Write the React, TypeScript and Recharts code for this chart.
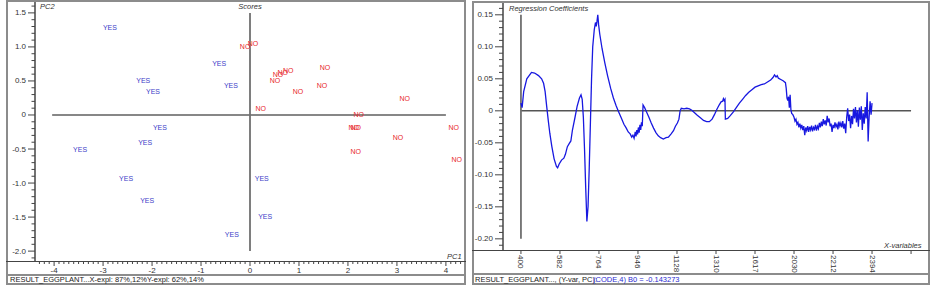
import React from "react"
import {
  ScatterChart,
  Scatter,
  LineChart,
  Line,
  XAxis,
  YAxis,
  ReferenceLine,
} from "recharts"

// scores plot (PC1 / PC2)
const yesPC1 = [-2.86, -0.63, -2.18, -1.98, -0.39, -1.84, -2.14, -3.47, -2.53, -2.1, -0.37, 0.24, 0.31]
const yesPC2 = [1.28, 0.76, 0.5, 0.34, 0.43, -0.18, -0.41, -0.51, -0.94, -1.26, -1.75, -0.94, -1.49]
const noPC1 = [-0.1, 0.06, 0.78, 0.67, 0.57, 0.51, 1.53, 1.47, 0.98, 0.22, 3.16, 2.22, 2.12, 2.16, 4.16, 3.02, 2.16, 4.22]
const noPC2 = [1.01, 1.05, 0.65, 0.62, 0.59, 0.5, 0.7, 0.44, 0.35, 0.09, 0.24, 0.01, -0.18, -0.18, -0.18, -0.33, -0.53, -0.66]

const scoreXTicks = [-4, -3, -2, -1, 0, 1, 2, 3, 4]
const scoreYTicks = [-2, -1.5, -1, -0.5, 0, 0.5, 1, 1.5]
const scoreYLabels = ["-2.0", "-1.5", "-1.0", "-0.5", "0", "0.5", "1.0", "1.5"]

// regression coefficients, x in tick units (0 = "400")
const coefPos = [
  0, 0.03, 0.07, 0.15, 0.27, 0.35, 0.45, 0.53, 0.58, 0.62, 0.66, 0.7, 0.74, 0.79, 0.85, 0.91, 0.94, 0.98,
  1.04, 1.1, 1.14, 1.19, 1.24, 1.28, 1.32, 1.38, 1.44, 1.5, 1.54, 1.57, 1.6, 1.63, 1.66, 1.69, 1.72, 1.75,
  1.78, 1.81, 1.84, 1.88, 1.91, 1.93, 1.95, 1.97, 1.99, 2.02, 2.08, 2.15, 2.22, 2.3, 2.37, 2.44, 2.5, 2.57,
  2.64, 2.7, 2.75, 2.8, 2.84, 2.87, 2.9, 2.93, 2.95, 2.97, 2.99, 3.01, 3.03, 3.05, 3.07, 3.09, 3.11, 3.13,
  3.17, 3.22, 3.28, 3.34, 3.4, 3.46, 3.52, 3.58, 3.65, 3.72, 3.78, 3.85, 3.91, 3.96, 4.01, 4.05, 4.08, 4.11,
  4.18, 4.25, 4.32, 4.38, 4.45, 4.52, 4.6, 4.68, 4.76, 4.83, 4.9, 4.96, 5.02, 5.08, 5.13, 5.17, 5.19, 5.21,
  5.23, 5.24, 5.3, 5.36, 5.44, 5.52, 5.6, 5.68, 5.76, 5.84, 5.92, 6.0, 6.08, 6.16, 6.24, 6.32, 6.4, 6.46,
  6.5, 6.54, 6.57, 6.6, 6.66, 6.72, 6.78, 6.8, 6.82, 6.84, 6.86, 6.88, 6.9, 6.92, 6.94, 6.97,
  7.0, 7.025, 7.05, 7.075, 7.1, 7.125, 7.15, 7.175, 7.2, 7.225, 7.25, 7.275, 7.3, 7.325, 7.35, 7.375,
  7.4, 7.425, 7.45, 7.475, 7.5, 7.525, 7.55, 7.575, 7.6, 7.625, 7.65, 7.675, 7.7, 7.725, 7.75, 7.775,
  7.8, 7.825, 7.85, 7.875, 7.9, 7.925, 7.95, 7.975, 8.0, 8.025, 8.05, 8.075, 8.1, 8.125, 8.15, 8.175,
  8.2, 8.225, 8.25, 8.275, 8.3, 8.325, 8.35, 8.375, 8.4, 8.425, 8.45, 8.475, 8.5, 8.525, 8.55, 8.575,
  8.6, 8.625, 8.65, 8.675, 8.7, 8.725, 8.75, 8.775, 8.8, 8.825, 8.85, 8.875, 8.9, 8.925, 8.95, 8.975, 9.0,
]
const coefVal = [
  0.012, 0.005, 0.03, 0.05, 0.06, 0.059, 0.055, 0.05, 0.043, 0.03, 0.007, -0.015, -0.035, -0.055, -0.075, -0.087, -0.089, -0.083,
  -0.077, -0.074, -0.068, -0.056, -0.051, -0.047, -0.03, -0.012, 0.007, 0.02, 0.025, 0.018, -0.01, -0.06, -0.12, -0.173, -0.15, -0.09,
  -0.02, 0.05, 0.1, 0.127, 0.138, 0.132, 0.14, 0.15, 0.135, 0.12, 0.097, 0.075, 0.055, 0.035, 0.02, 0.008, -0.001, -0.011,
  -0.021, -0.027, -0.033, -0.036, -0.041, -0.038, -0.043, -0.033, -0.04, -0.03, -0.037, -0.026, -0.034, -0.022, -0.03, -0.018, -0.024, 0.009,
  0.005, -0.002, -0.01, -0.019, -0.027, -0.034, -0.039, -0.042, -0.044, -0.042, -0.041, -0.036, -0.031, -0.024, -0.019, -0.013, 0.0, 0.004,
  0.003, 0.004, 0.003, 0.001, -0.003, -0.007, -0.011, -0.015, -0.017, -0.017, -0.013, -0.006, 0.002, 0.009, 0.014, 0.015, 0.019, 0.016,
  0.018, -0.013, -0.012, -0.008, -0.002, 0.005, 0.012, 0.018, 0.024, 0.029, 0.033, 0.037, 0.039, 0.041, 0.042, 0.045, 0.048, 0.052,
  0.056, 0.053, 0.055, 0.051, 0.049, 0.047, 0.044, 0.035, 0.02, 0.016, 0.022, 0.005, 0.025, 0.002, -0.004, -0.006,
  -0.01, -0.016, -0.013, -0.021, -0.018, -0.026, -0.02, -0.027, -0.022, -0.03, -0.024, -0.038, -0.026, -0.031, -0.024, -0.033,
  -0.025, -0.03, -0.023, -0.032, -0.026, -0.029, -0.022, -0.031, -0.024, -0.028, -0.019, -0.026, -0.017, -0.024, -0.013, -0.021,
  -0.015, -0.023, -0.008, -0.018, -0.012, -0.024, -0.02, -0.033, -0.022, -0.027, -0.018, -0.025, -0.021, -0.029, -0.017, -0.024,
  -0.019, -0.026, -0.016, -0.028, -0.02, -0.035, -0.01, 0.004, -0.016, -0.006, -0.027, -0.008, -0.021, 0.003, -0.012, 0.006,
  -0.018, 0.001, -0.025, 0.005, -0.014, 0.007, -0.03, -0.004, -0.02, 0.006, -0.012, 0.029, -0.048, -0.01, 0.015, -0.006, 0.012,
]

const coefXTicks = [0, 1, 2, 3, 4, 5, 6, 7, 8, 9, 10]
const coefXLabels = ["400", "582", "764", "946", "1128", "1310", "1617", "2030", "2212", "2394", ""]
const coefYTicks = [-0.2, -0.15, -0.1, -0.05, 0, 0.05, 0.1, 0.15]
const coefYLabels = ["-0.20", "-0.15", "-0.10", "-0.05", "0", "0.05", "0.10", "0.15"]

const FONT = '"Liberation Sans", Arial, sans-serif'
const FRAME = "#8c8c8c"
const AXIS = "#444"

// minor tick helpers (every tenth of a major step)
const steps = (from: number, to: number, div: number) => {
  const out: number[] = []
  for (let k = Math.round(from * div); k <= Math.round(to * div); k++) out.push(k / div)
  return out
}

const labelFor = (v: number, ticks: number[], labels: string[]) => {
  const i = ticks.findIndex((t) => Math.abs(t - v) < 1e-6)
  return i >= 0 ? labels[i] : null
}

function LeftTick({ x, y, payload, ticks, labels, major, minor }: any) {
  const lab = labelFor(payload.value, ticks, labels)
  return (
    <g>
      <line x1={x - (lab !== null ? major : minor)} x2={x} y1={y} y2={y} stroke={AXIS} strokeWidth={1} />
      {lab !== null && (
        <text x={x - major - 2} y={y} textAnchor="end" dominantBaseline="central" fontSize={8} fill="#333" fontFamily={FONT}>
          {lab}
        </text>
      )}
    </g>
  )
}

function ScoreXTick({ x, y, payload }: any) {
  const isMajor = scoreXTicks.some((t) => Math.abs(t - payload.value) < 1e-6)
  return (
    <g>
      <line x1={x} x2={x} y1={y} y2={y + (isMajor ? 4 : 2)} stroke={AXIS} strokeWidth={1} />
      {isMajor && (
        <text x={x} y={y + 8.5} textAnchor="middle" dominantBaseline="central" fontSize={8} fill="#333" fontFamily={FONT}>
          {payload.value}
        </text>
      )}
    </g>
  )
}

function CoefXTick({ x, y, payload }: any) {
  const lab = labelFor(payload.value, coefXTicks, coefXLabels)
  return (
    <g>
      <line x1={x} x2={x} y1={y} y2={y + 3} stroke={AXIS} strokeWidth={1} />
      <text
        x={x}
        y={y + 4}
        transform={`rotate(90, ${x}, ${y + 4})`}
        textAnchor="start"
        dominantBaseline="central"
        fontSize={8}
        fill="#333"
        fontFamily={FONT}
      >
        {lab}
      </text>
    </g>
  )
}

const wordShape = (word: string, color: string) => (props: any) => (
  <text x={props.cx} y={props.cy} textAnchor="middle" dominantBaseline="central" fontSize={7} fill={color} fontFamily={FONT}>
    {word}
  </text>
)

const smallLabel: React.CSSProperties = {
  position: "absolute",
  fontSize: 7.5,
  fontStyle: "italic",
  color: "#333",
  lineHeight: "8px",
  whiteSpace: "nowrap",
}

const hLine = (left: number, top: number, width: number, color: string, w = 2) => (
  <div style={{ position: "absolute", left, top, width, height: 0, borderTop: `${w}px solid ${color}` }} />
)

export default function App() {
  const yesData = yesPC1.map((x, i) => ({ x, y: yesPC2[i] }))
  const noData = noPC1.map((x, i) => ({ x, y: noPC2[i] }))
  const coefData = coefPos.map((x, i) => ({ x, v: coefVal[i] }))

  return (
    <div style={{ position: "absolute", left: 0, top: 0, width: 940, height: 286, background: "#fff", fontFamily: FONT, overflow: "hidden" }}>
      {/* scores */}
      <div style={{ position: "absolute", left: 0, top: 0 }}>
        <ScatterChart width={470} height={286} margin={{ top: 2, right: 5, bottom: 12, left: 7 }}>
          <XAxis
            type="number"
            dataKey="x"
            domain={[-4.39, 4.39]}
            allowDataOverflow
            ticks={steps(-4.3, 4.3, 10)}
            interval={0}
            height={12}
            axisLine={false}
            tickLine={false}
            tickSize={0}
            tickMargin={0}
            tick={<ScoreXTick />}
          />
          <YAxis
            type="number"
            dataKey="y"
            domain={[-2.16, 1.66]}
            allowDataOverflow
            ticks={steps(-2.1, 1.6, 10)}
            interval={0}
            width={28}
            axisLine={{ stroke: AXIS, strokeWidth: 1.5 }}
            tickLine={false}
            tickSize={0}
            tickMargin={0}
            tick={<LeftTick ticks={scoreYTicks} labels={scoreYLabels} major={7} minor={3.5} />}
          />
          <ReferenceLine segment={[{ x: -4.04, y: 0 }, { x: 4, y: 0 }]} stroke="#111" strokeWidth={1.2} />
          <ReferenceLine segment={[{ x: 0, y: 1.5 }, { x: 0, y: -2 }]} stroke="#707070" strokeWidth={1.8} />
          <Scatter data={yesData} shape={wordShape("YES", "#3c3cc8")} isAnimationActive={false} />
          <Scatter data={noData} shape={wordShape("NO", "#e8282a")} isAnimationActive={false} />
        </ScatterChart>
      </div>

      {/* regression coefficients */}
      <div style={{ position: "absolute", left: 466, top: 0 }}>
        <LineChart width={474} height={286} data={coefData} margin={{ top: 2, right: 11, bottom: 12, left: 7 }}>
          <XAxis
            type="number"
            dataKey="x"
            domain={[-0.46, 10.46]}
            allowDataOverflow
            ticks={coefXTicks}
            interval={0}
            height={23}
            axisLine={false}
            tickLine={false}
            tickSize={0}
            tickMargin={0}
            tick={<CoefXTick />}
          />
          <YAxis
            type="number"
            domain={[-0.219, 0.17]}
            allowDataOverflow
            ticks={steps(-0.21, 0.16, 100)}
            interval={0}
            width={30}
            axisLine={{ stroke: AXIS, strokeWidth: 1.5 }}
            tickLine={false}
            tickSize={0}
            tickMargin={0}
            tick={<LeftTick ticks={coefYTicks} labels={coefYLabels} major={8} minor={4} />}
          />
          <ReferenceLine segment={[{ x: 0, v: 0, y: 0 } as any, { x: 10, y: 0 } as any]} stroke="#555" strokeWidth={1.5} />
          <ReferenceLine segment={[{ x: 0, y: 0.15 }, { x: 0, y: -0.2 }]} stroke="#707070" strokeWidth={1.8} />
          <Line type="linear" dataKey="v" stroke="#1818e0" strokeWidth={1.3} dot={false} isAnimationActive={false} />
        </LineChart>
      </div>

      {/* frames */}
      <div style={{ position: "absolute", left: 6, top: 0, width: 460, height: 285, border: `2px solid ${FRAME}`, boxSizing: "border-box" }} />
      {hLine(6, 261, 460, AXIS, 1.5)}
      {hLine(6, 273.5, 460, FRAME)}
      <div style={{ position: "absolute", left: 472, top: 1, width: 458, height: 284, border: `2px solid ${FRAME}`, boxSizing: "border-box" }} />
      {hLine(472, 250, 458, AXIS, 1.5)}
      {hLine(472, 273, 458, FRAME)}

      {/* captions */}
      <div style={{ ...smallLabel, left: 40, top: 3 }}>PC2</div>
      <div style={{ ...smallLabel, left: 250, top: 3, transform: "translateX(-50%)" }}>Scores</div>
      <div style={{ ...smallLabel, left: 447, top: 253 }}>PC1</div>
      <div style={{ ...smallLabel, left: 509, top: 5 }}>Regression Coefficients</div>
      <div style={{ ...smallLabel, left: 884, top: 242 }}>X-variables</div>

      {/* status bars */}
      <div style={{ position: "absolute", left: 10, top: 276, fontSize: 7.5, lineHeight: "8px", color: "#222", whiteSpace: "nowrap" }}>
        RESULT_EGGPLANT...X-expl: 87%,12%Y-expl: 62%,14%
      </div>
      <div style={{ position: "absolute", left: 475, top: 276, fontSize: 7.5, lineHeight: "8px", color: "#222", whiteSpace: "nowrap" }}>
        RESULT_EGGPLANT..., (Y-var, PC):
      </div>
      <div style={{ position: "absolute", left: 593, top: 276, fontSize: 7.5, lineHeight: "8px", color: "#2a2ad0", whiteSpace: "nowrap" }}>
        (CODE,4) B0 = -0.143273
      </div>
    </div>
  )
}
